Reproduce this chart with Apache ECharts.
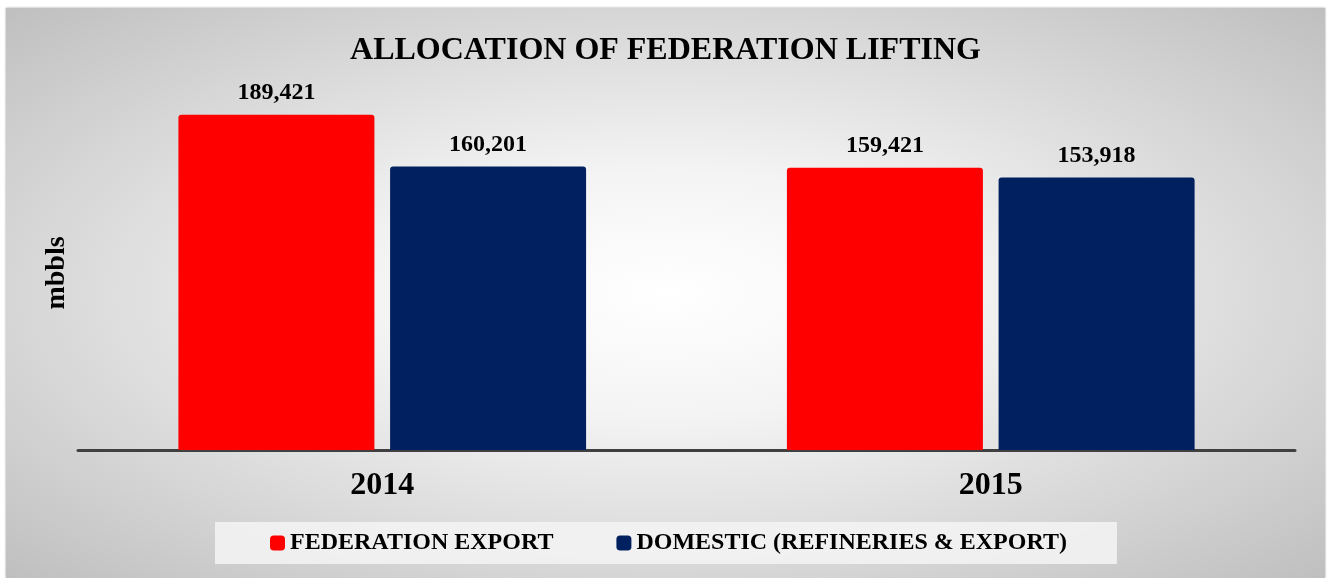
<!DOCTYPE html>
<html>
<head>
<meta charset="utf-8">
<script src="https://cdn.jsdelivr.net/npm/echarts@6/dist/echarts.min.js"></script>
<style>
  html, body { margin: 0; padding: 0; background: #fff; }
  #chart {
    position: absolute; left: 6px; top: 8px; width: 1319px; height: 570px;
    background: radial-gradient(ellipse farthest-corner at 50% 50%, #ffffff 0%, #f4f4f4 30%, #bfbfbf 100%);
    box-shadow: 0 0 2px #9a9a9a;
  }
</style>
</head>
<body>
<div id="chart"></div>
<script>
// 数据
const categories = ['2014', '2015'];
const federationExport = [189421, 159421];
const domestic = [160201, 153918];
const seriesNames = ['FEDERATION EXPORT', 'DOMESTIC (REFINERIES & EXPORT)'];

const serif = '"Liberation Serif", "Times New Roman", serif';

const myChart = echarts.init(document.getElementById('chart'));

const label = {
  show: true,
  position: 'top',
  distance: 10,
  fontFamily: serif,
  fontWeight: 'bold',
  fontSize: 24,
  color: '#000',
  formatter: p => p.value.toLocaleString('en-US')
};

myChart.setOption({
  backgroundColor: 'transparent',
  title: {
    text: 'ALLOCATION OF FEDERATION LIFTING',
    left: 'center',
    top: 22,
    textStyle: { fontFamily: serif, fontWeight: 'bold', fontSize: 32, color: '#000' }
  },
  legend: {
    left: 209,
    top: 514,
    padding: [9, 50, 9, 55],
    itemGap: 63,
    itemWidth: 15,
    itemHeight: 15,
    icon: 'roundRect',
    backgroundColor: 'rgba(244,244,244,0.85)',
    textStyle: { fontFamily: serif, fontWeight: 'bold', fontSize: 24, color: '#000' },
    data: seriesNames
  },
  grid: { left: 72, right: 30, top: 88, bottom: 128 },
  xAxis: {
    type: 'category',
    data: categories,
    axisLine: { lineStyle: { color: '#404040', width: 3 } },
    axisTick: { show: false },
    axisLabel: { margin: 20, fontFamily: serif, fontWeight: 'bold', fontSize: 32, color: '#000' }
  },
  yAxis: {
    type: 'value',
    min: 0,
    max: 200000,
    name: 'mbbls',
    nameLocation: 'middle',
    nameGap: 7,
    nameTextStyle: { fontFamily: serif, fontWeight: 'bold', fontSize: 28, color: '#000' },
    axisLine: { show: false },
    axisTick: { show: false },
    axisLabel: { show: false },
    splitLine: { show: false }
  },
  series: [
    {
      name: seriesNames[0],
      type: 'bar',
      barWidth: 196,
      barGap: '8%',
      data: federationExport,
      itemStyle: { color: '#ff0000', borderRadius: [3, 3, 0, 0] },
      label: label
    },
    {
      name: seriesNames[1],
      type: 'bar',
      barWidth: 196,
      data: domestic,
      itemStyle: { color: '#002060', borderRadius: [3, 3, 0, 0] },
      label: label
    }
  ]
});
window.onresize = function () {
  myChart.resize();
};
</script>
</body>
</html>
